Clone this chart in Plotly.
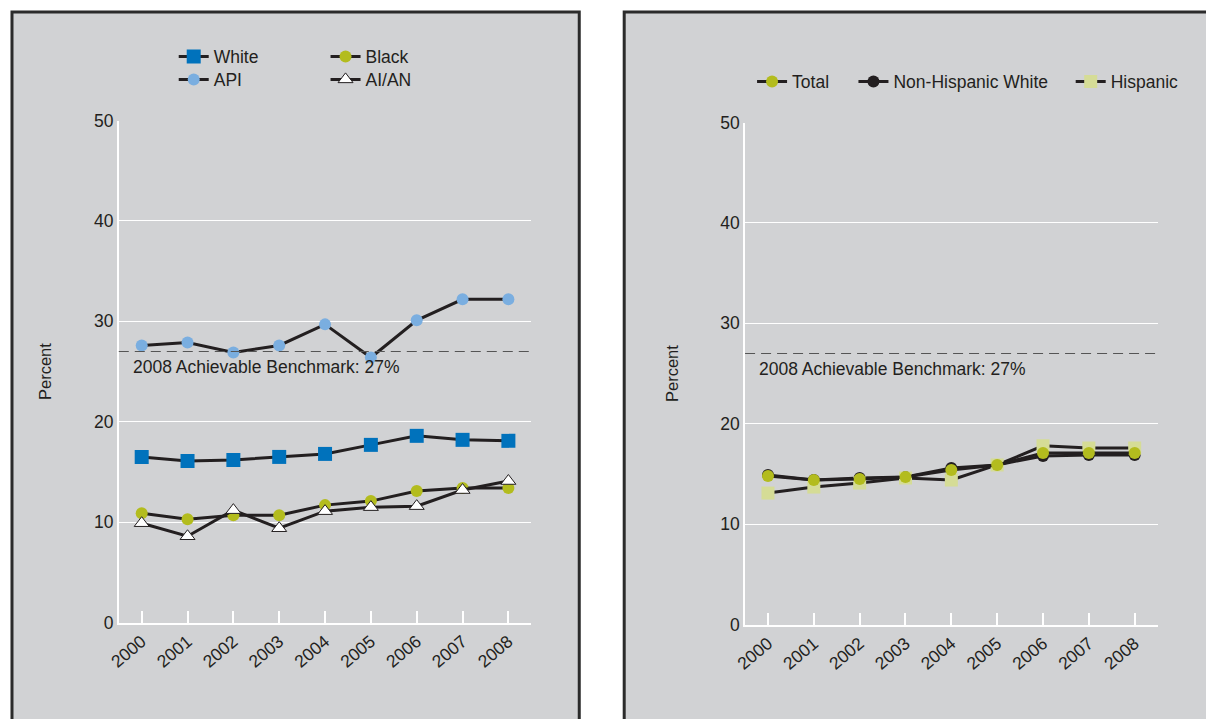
import plotly.graph_objects as go

years = [2000, 2001, 2002, 2003, 2004, 2005, 2006, 2007, 2008]

# left panel: race
white = [16.5, 16.1, 16.2, 16.5, 16.8, 17.7, 18.6, 18.2, 18.1]
api = [27.6, 27.9, 26.9, 27.6, 29.7, 26.4, 30.1, 32.2, 32.2]
black = [10.9, 10.3, 10.7, 10.7, 11.7, 12.1, 13.1, 13.4, 13.4]
aian = [9.9, 8.6, 11.2, 9.4, 11.1, 11.5, 11.6, 13.2, 14.1]

# right panel: ethnicity
total = [14.8, 14.4, 14.5, 14.7, 15.4, 15.9, 17.1, 17.1, 17.1]
nh_white = [14.9, 14.4, 14.6, 14.7, 15.6, 15.9, 16.8, 16.9, 16.9]
hispanic = [13.1, 13.7, 14.1, 14.6, 14.4, 15.9, 17.8, 17.6, 17.6]

benchmark = 27
bench_label = "2008 Achievable Benchmark: 27%"

W, H = 1206, 719
GRAY = "#d1d2d4"
INK = "#231f20"
FONT = "Liberation Sans, Arial, sans-serif"
FS = 17.5

# the page snapshot comes out slightly shrunk/offset, so place things
# by where they should land in the picture
def fx(px):
    return (px - 10.1) / 0.992 / W

def fy(px):
    return 1 - (px - 10.5) / 0.972 / H

fig = go.Figure()

# one legend per entry so each key sits where the original has it
legend_at = {
    "White": (173, 57), "API": (173, 80),
    "Black": (325, 57), "AI/AN": (325, 80),
    "Total": (752, 82), "Non-Hispanic White": (853.5, 82), "Hispanic": (1071, 82),
}
legend_ids = {}
for i, name in enumerate(legend_at):
    legend_ids[name] = "legend" if i == 0 else "legend%d" % (i + 1)

def add(name, y, xa, ya, color, symbol, size):
    fig.add_trace(go.Scatter(
        x=years, y=y, name=name, xaxis=xa, yaxis=ya, mode="lines+markers",
        line=dict(color=INK, width=3),
        marker=dict(color=color, symbol=symbol, size=size,
                    line=dict(color=INK, width=1 if symbol == "triangle-up" else 0)),
        legend=legend_ids[name],
    ))

add("White", white, "x", "y", "#0072bc", "square", 14)
add("API", api, "x", "y", "#7aaee0", "circle", 12)
add("Black", black, "x", "y", "#b3bc1e", "circle", 12)
add("AI/AN", aian, "x", "y", "white", "triangle-up", 13)

add("Non-Hispanic White", nh_white, "x2", "y2", INK, "circle", 12)
add("Hispanic", hispanic, "x2", "y2", "#d5dc96", "square", 13)
add("Total", total, "x2", "y2", "#b3bc1e", "circle", 12)

xcommon = dict(range=[1999.5, 2008.5], tickmode="array", tickvals=years,
               tickangle=-40, ticks="inside", ticklen=12, tickcolor="white",
               tickwidth=1.5, showline=True, linecolor="white", linewidth=2,
               showgrid=False, zeroline=False,
               tickfont=dict(size=FS, color=INK, family=FONT))
ycommon = dict(range=[0, 50], tickvals=[0, 10, 20, 30, 40, 50], showgrid=True,
               gridcolor="white", gridwidth=1, showline=True, linecolor="white",
               linewidth=1.5, zeroline=False, ticks="",
               tickfont=dict(size=FS, color=INK, family=FONT),
               title=dict(text="Percent", font=dict(size=16.5, color=INK, family=FONT),
                          standoff=38))

fig.update_layout(
    xaxis=dict(domain=[fx(118), fx(531)], anchor="y", **xcommon),
    yaxis=dict(domain=[fy(623), fy(121)], anchor="x", **ycommon),
    xaxis2=dict(domain=[fx(745), fx(1158)], anchor="y2", **xcommon),
    yaxis2=dict(domain=[fy(625), fy(123)], anchor="x2", **ycommon),
)

leg = dict(bgcolor="rgba(0,0,0,0)", font=dict(size=FS, color=INK, family=FONT),
           xanchor="left", yanchor="middle", itemwidth=30, orientation="v")
fig.update_layout({legend_ids[n]: dict(x=fx(px), y=fy(py), **leg)
                   for n, (px, py) in legend_at.items()})

# panels
fig.add_shape(type="rect", xref="paper", yref="paper", x0=1 / W, x1=fx(579),
              y0=-0.1, y1=1 - 2 / H, fillcolor=GRAY,
              line=dict(color="#2b2b2b", width=3), layer="below")
fig.add_shape(type="rect", xref="paper", yref="paper", x0=fx(624), x1=1.05,
              y0=-0.1, y1=1 - 2 / H, fillcolor=GRAY,
              line=dict(color="#2b2b2b", width=3), layer="below")

# benchmark lines
for xr, yr in [("x", "y"), ("x2", "y2")]:
    fig.add_shape(type="line", xref=xr + " domain", yref=yr, x0=0, x1=1,
                  y0=benchmark, y1=benchmark,
                  line=dict(color="#555555", width=1.2, dash="10px,6px"))
    fig.add_annotation(x=1999.76, y=25.5, xref=xr, yref=yr, text=bench_label,
                       showarrow=False, xanchor="left", yanchor="middle",
                       font=dict(size=FS, color=INK, family=FONT))

fig.update_layout(
    width=W, height=H, margin=dict(l=0, r=0, t=0, b=0),
    paper_bgcolor="white", plot_bgcolor=GRAY, showlegend=True,
    font=dict(family=FONT, color=INK),
)

# pin the figure to the window corner (no default body margin, no scrollbars)
pin = """
document.documentElement.style.margin = '0';
document.documentElement.style.overflow = 'hidden';
document.body.style.margin = '0';
document.body.style.overflow = 'hidden';
var gd = document.getElementById('{plot_id}');
gd.style.position = 'fixed';
gd.style.left = '0px';
gd.style.top = '0px';
"""
fig.write_html("out.html", config={"displayModeBar": False}, post_script=pin)
